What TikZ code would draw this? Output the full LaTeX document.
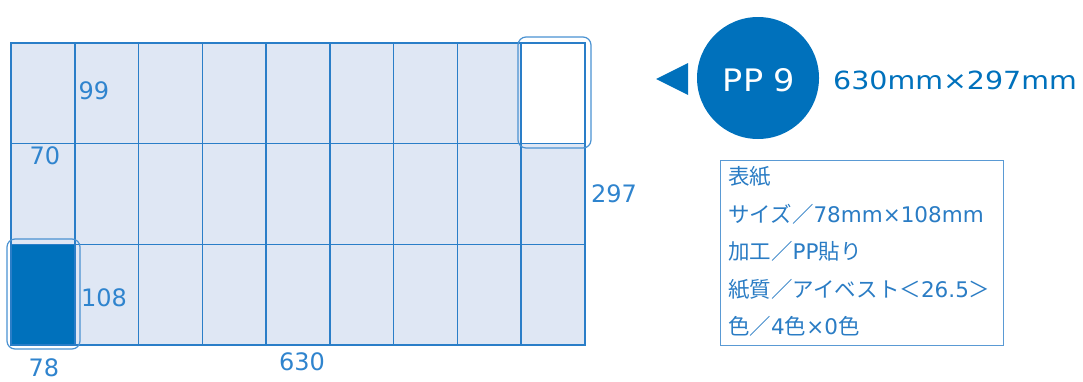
\documentclass[tikz,border=0pt]{standalone}
\usepackage{fontspec}
\setmainfont{DejaVu Sans}
\newfontfamily\jp{Noto Sans CJK JP}
\definecolor{gridc}{HTML}{2A7EC8}
\definecolor{cellc}{HTML}{DFE7F4}
\definecolor{darkc}{HTML}{0071BC}
\definecolor{outc}{HTML}{4A92D2}
\definecolor{lblc}{HTML}{2F84CE}
\definecolor{boxc}{HTML}{5A9AD4}
\definecolor{boxtxt}{HTML}{2A7CC4}
\tikzset{
  gridline/.style={draw=gridc, line width=1.5pt},
  outline/.style={draw=outc, line width=1.2pt, rounded corners=8pt},
  lbl/.style={text=lblc, font=\fontsize{24}{24}\selectfont, inner sep=0pt},
  boxline/.style={text=boxtxt, font=\fontsize{21.5}{21.5}\selectfont, inner sep=0pt, anchor=base west},
}
\begin{document}
\begin{tikzpicture}[x=1pt,y=-1pt]
\useasboundingbox (0,0) rectangle (1083,381);
% sheet
\fill[cellc] (11,43) rectangle (585,345);
\fill[white] (521.2,43) rectangle (585,143.7);
\fill[darkc] (11,244.3) rectangle (74.8,345);
\foreach \i in {1,...,8} \draw[gridline] ({11+\i*63.78},43) -- ({11+\i*63.78},345);
\foreach \yy in {143.7,244.3} \draw[gridline] (11,\yy) -- (585,\yy);
\draw[gridline, line width=2.2pt] (11,43) rectangle (585,345);
\draw[outline] (7,239) rectangle (80,349);
\draw[outline] (518,37) rectangle (591,148);
% dimension labels
\node[lbl] (l99) at (94,91) {99};
\node[lbl] (l70) at (45,156) {70};
\node[lbl] (l108) at (104,298) {108};
\node[lbl] (l78) at (44,368) {78};
\node[lbl] (l630) at (302,362) {630};
\node[lbl] (l297) at (614,194) {297};
% badge
\fill[darkc] (656,79) -- (688,63) -- (688,95) -- cycle;
\node[circle, fill=darkc, minimum size=122pt, inner sep=0pt] (pp) at (758,78) {};
\node[text=white, font=\fontsize{31}{31}\selectfont, inner sep=0pt, xscale=1.08, transform shape] (pptxt) at (759,80) {PP 9};
\node[text=darkc, font=\fontsize{25}{25}\selectfont, inner sep=0pt, xscale=1.14, transform shape] (size) at (955,80) {630mm×297mm};
% spec box
\node[draw=boxc, line width=1.2pt, minimum width=283pt, minimum height=185pt, inner sep=0pt, anchor=north west] (box) at (719.5,159.5) {};
\node[boxline] (t1) at (728,184.5) {{\jp 表紙}};
\node[boxline] (t2) at (728,222) {{\jp サイズ／}78mm×108mm};
\node[boxline] (t3) at (728,259.5) {{\jp 加工／}PP{\jp 貼り}};
\node[boxline] (t4) at (728,297) {{\jp 紙質／アイベスト＜}26.5{\jp ＞}};
\node[boxline] (t5) at (728,334.5) {{\jp 色／}4{\jp 色}×0{\jp 色}};
\end{tikzpicture}
\end{document}
